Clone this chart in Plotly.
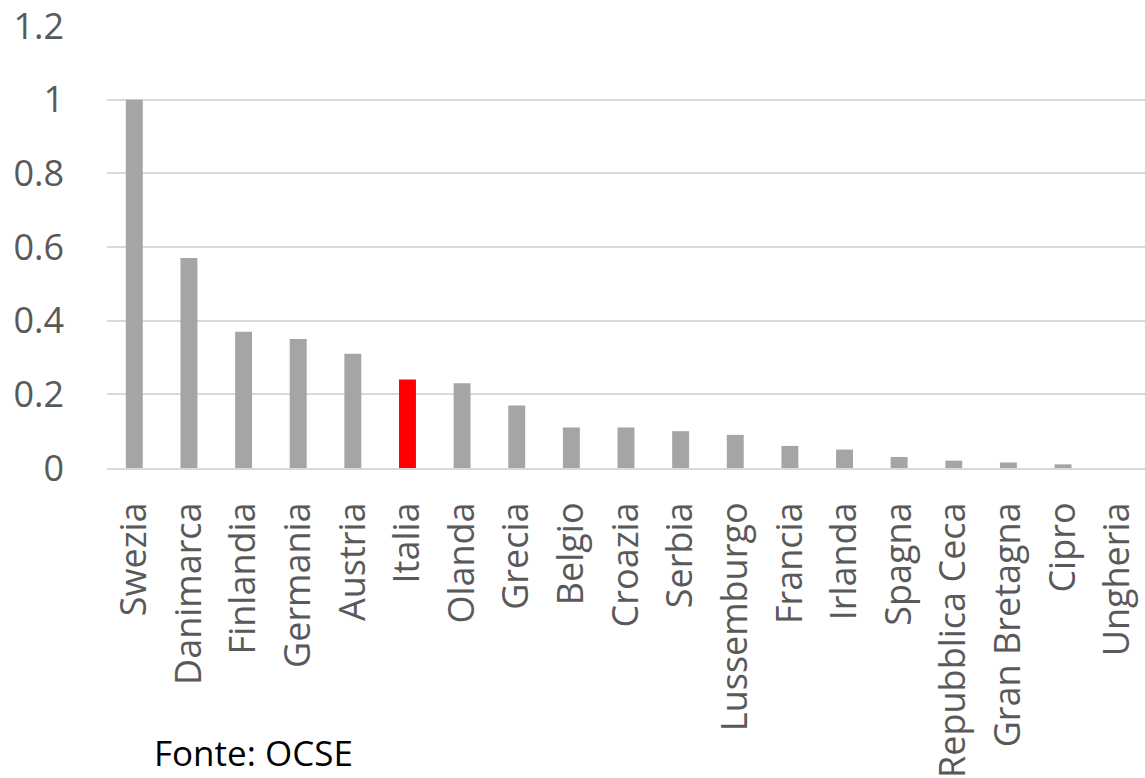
import plotly.graph_objects as go

countries = ["Swezia", "Danimarca", "Finlandia", "Germania", "Austria", "Italia",
             "Olanda", "Grecia", "Belgio", "Croazia", "Serbia", "Lussemburgo",
             "Francia", "Irlanda", "Spagna", "Repubblica Ceca", "Gran Bretagna",
             "Cipro", "Ungheria"]
values = [1.0, 0.57, 0.37, 0.35, 0.31, 0.24, 0.23, 0.17, 0.11, 0.11, 0.10, 0.09,
          0.06, 0.05, 0.03, 0.02, 0.015, 0.01, 0.0]
highlight = "Italia"
y_ticks = [0, 0.2, 0.4, 0.6, 0.8, 1, 1.2]
y_ticktext = ["0", "0.2", "0.4", "0.6", "0.8", "1", "1.2"]
source_note = "Fonte: OCSE"

colors = ["#FF0000" if c == highlight else "#A5A5A5" for c in countries]

fig = go.Figure(go.Bar(x=countries, y=values, marker_color=colors,
                       marker_line_width=0))

font_family = "Open Sans"
fig.update_layout(
    width=1145, height=778,
    margin=dict(l=107, r=0, t=26, b=310),
    plot_bgcolor="white", paper_bgcolor="white",
    bargap=0.69,
    showlegend=False,
    font=dict(family=font_family, color="#595959"),
)
fig.update_yaxes(range=[0, 1.2], tickvals=y_ticks, ticktext=y_ticktext,
                 showgrid=True, gridcolor="#D9D9D9", gridwidth=2,
                 zeroline=False, showline=False,
                 tickfont=dict(size=36, color="#595959", family=font_family),
                 ticklabelstandoff=42, ticklabeloverflow="allow",
                 automargin=False)
fig.update_xaxes(tickangle=-90, showline=True, linecolor="#D9D9D9", linewidth=2,
                 tickfont=dict(size=36, color="#595959", family=font_family),
                 ticklabelstandoff=18, showgrid=False, automargin=False,
                 ticklabeloverflow="allow")
fig.add_annotation(text=source_note, xref="paper", yref="paper",
                   x=0.043, y=-0.643, xanchor="left", yanchor="middle",
                   showarrow=False,
                   font=dict(size=35, color="#000000", family=font_family))
fig.write_html("out.html")
